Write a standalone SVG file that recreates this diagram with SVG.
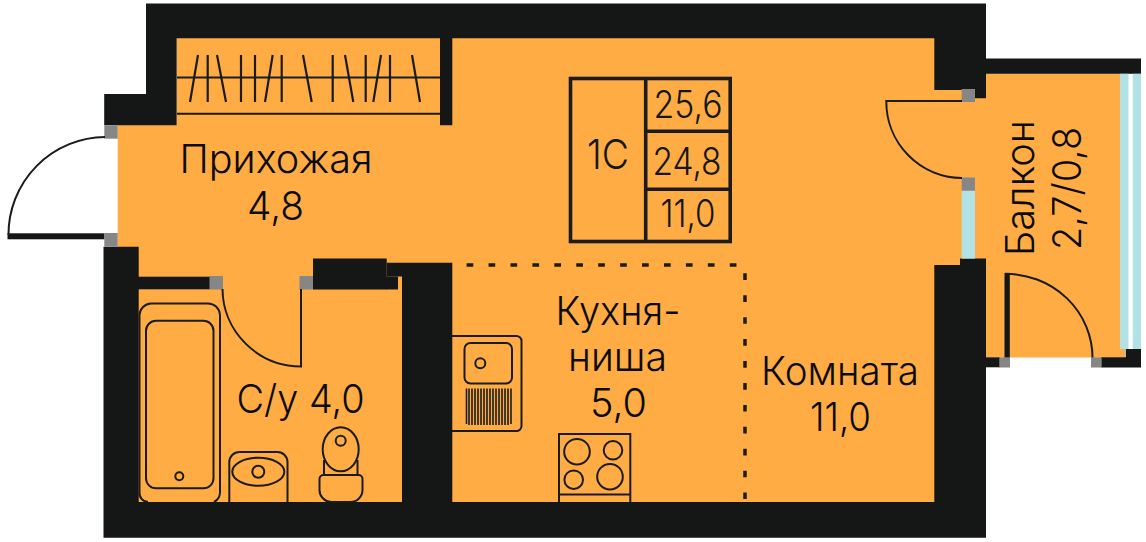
<svg xmlns="http://www.w3.org/2000/svg" width="1146" height="542" viewBox="0 0 1146 542">
<style>
.w{fill:#151716}
.g{fill:#868686}
.b{fill:#b0e2e6}
.l{fill:none;stroke:#1b1c1a;stroke-width:2}
.h{fill:none;stroke:#1b1c1a;stroke-width:2.2}
.d{fill:none;stroke:#1b1c1a;stroke-width:3.5}
text{font-family:Inter,"Noto Sans","Liberation Sans",sans-serif;font-size:39px;fill:#0b0b0b;font-weight:300}
.n{font-size:38px;fill:#151716}
</style>
<rect width="1146" height="542" fill="#fff"/>
<g id="floor"><polygon points="177,38 935,38 935,74 1125,74 1125,357.5 935,357.5 935,502 117.700,502 117.700,125 177,125" fill="#ffac45"/></g>
<g id="walls">
<polygon class="w" points="146,3.500 986,3.500 986,98.300 962,98.300 962,90 934.300,90 934.300,38.300 452.300,38.300 452.300,125.300 440,125.300 440,38.300 176.700,38.300 176.700,125.300 104.200,125.300 104.200,94 146,94"/>
<rect class="w" x="986" y="58.500" width="155" height="15.300"/>
<polygon class="w" points="934.300,265 960,265 960,258.600 986,258.600 986,537.700 103.500,537.700 103.500,246.700 138.700,246.700 138.700,502 402,502 402,276.500 386.700,276.500 386.700,262.700 452.300,262.700 452.300,502 934.300,502"/>
<rect class="w" x="138" y="276.700" width="72" height="12.600"/>
<rect class="w" x="313" y="258.500" width="73.700" height="31"/>
<rect class="w" x="386" y="276.500" width="12" height="13"/>
<rect class="w" x="986" y="357.300" width="14" height="10"/>
<polygon class="w" points="1101,357.300 1125.700,357.300 1125.700,349 1141,349 1141,367.500 1101,367.500"/>
<rect class="w" x="1004.500" y="273" width="5.300" height="85"/>
<rect class="w" x="7.500" y="233.300" width="97" height="6"/>
</g>
<g id="openings">
<rect class="g" x="104.300" y="125.300" width="13.400" height="13.400"/>
<rect class="g" x="104.300" y="233" width="13.400" height="13.700"/>
<rect class="g" x="209.500" y="276" width="13.500" height="13.500"/>
<rect class="g" x="299.500" y="276" width="13.500" height="13.500"/>
<rect class="g" x="961.700" y="89" width="13.300" height="13"/>
<rect class="g" x="961.700" y="177.500" width="13.300" height="13.300"/>
<rect class="g" x="999.300" y="357.300" width="10.700" height="10.200"/>
<rect class="g" x="1091" y="357.300" width="10.700" height="10.200"/>
<rect class="b" x="961.700" y="190.800" width="13.300" height="67.800"/>
<rect class="b" x="1120" y="73.800" width="8.500" height="275.200"/>
<rect class="b" x="1132.700" y="73.800" width="8.300" height="275.200"/>
</g>
<g id="connectors">
<path class="l" d="M105 137A97.500 97.500 0 0 0 8.500 235"/>
<path class="l" d="M222.500 289A79 78 0 0 0 301 366.500V289"/>
<path class="l" d="M962 101H886.300A76 76.500 0 0 0 962 178"/>
<path class="l" d="M1005 273.800A87 84 0 0 1 1092.500 357.500"/>
<path class="d" d="M466.600 265H738" stroke-dasharray="6.700 15.230"/>
<path class="d" d="M745 273.300V499" stroke-dasharray="6.700 15.230"/>
</g>
<g id="wardrobe">
<path class="l" d="M177 77.500H440M177 113.700H440"/>
<path class="h" d="M198 55L190 102M207.700 55V102M217 55L226 102M241 55V102M255 55V102M272.700 55L265 102M281.700 55V102M303 55L311.700 102M332.700 55V102M345 55L353.300 102M365.700 55V102M381 55L373.300 102M390 55V102M412 55L420 102"/>
</g>
<g id="bath" class="l">
<path d="M148 502A9 9 0 0 1 139.500 492V315A12 12 0 0 1 151 303.500H208A12 12 0 0 1 220 315V492A11 11 0 0 1 214 502"/>
<rect x="146" y="320.800" width="67.500" height="167.500" rx="10"/>
<circle cx="179.300" cy="476.300" r="4"/>
</g>
<g id="sink" class="l">
<path d="M229.300 502V462A10 10 0 0 1 239.300 452H277.500A10 10 0 0 1 287.500 462V502"/>
<ellipse cx="258.300" cy="471.700" rx="26" ry="14"/>
<circle cx="258.300" cy="471.700" r="6"/>
</g>
<g id="toilet" class="l">
<ellipse cx="340.700" cy="449.300" rx="18" ry="22"/>
<circle cx="340.700" cy="440.700" r="5"/>
<path d="M324 460V475M357.500 460V475"/>
<path d="M323.500 475H358.500A4 4 0 0 1 362.500 479V490A12 12 0 0 1 350.500 502H331A12 12 0 0 1 319.500 490V479A4 4 0 0 1 323.500 475Z"/>
</g>
<g id="kitchen-sink" class="l">
<path d="M452 336H516A5 5 0 0 1 521.500 341V426A5 5 0 0 1 516 431H452"/>
<rect x="464.500" y="343" width="47.500" height="40.500" rx="6"/>
<circle cx="480.300" cy="363.300" r="5"/>
<path d="M466.500 388.500V424M469 388.500V425M472 388.500V425M475 388.500V425M478 388.500V425M481 388.500V425M484 388.500V425M487 388.500V425M490 388.500V425M493 388.500V425M496 388.500V425M499 388.500V425M502 388.500V425M505 388.500V425M508 388.500V425M511 388.500V424" stroke-width="1.600"/>
</g>
<g id="stove" class="l">
<path d="M559 502V434H630.300V502M559 494.500H630.300"/>
<circle cx="577" cy="451.700" r="12.800"/>
<circle cx="613" cy="450.300" r="9.300"/>
<circle cx="573.700" cy="479.700" r="9.300"/>
<circle cx="610" cy="476.700" r="12.800"/>
</g>
<g id="label-box">
<rect x="570.500" y="78.500" width="159.700" height="163" fill="none" stroke="#1b1c1a" stroke-width="3.600"/>
<path d="M645.700 78.500V241.500M645.700 131.300H730M645.700 189.300H730" fill="none" stroke="#1b1c1a" stroke-width="3.600"/>
<text class="n" x="587" y="169.300" textLength="42" lengthAdjust="spacingAndGlyphs" style="font-size:41px">1С</text>
<text class="n" x="653.500" y="117.700" textLength="69" lengthAdjust="spacingAndGlyphs">25,6</text>
<text class="n" x="652.500" y="175" textLength="69" lengthAdjust="spacingAndGlyphs">24,8</text>
<text class="n" x="660.500" y="226.700" textLength="55" lengthAdjust="spacingAndGlyphs">11,0</text>
</g>
<g id="room-hall">
<text x="179.500" y="173" textLength="193" lengthAdjust="spacingAndGlyphs">Прихожая</text>
<text x="247" y="220" textLength="57" lengthAdjust="spacingAndGlyphs">4,8</text>
</g>
<g id="room-wc"><text x="236.500" y="413" textLength="128" lengthAdjust="spacingAndGlyphs">С/у 4,0</text></g>
<g id="room-kitchen">
<text x="555.500" y="325" textLength="125" lengthAdjust="spacingAndGlyphs">Кухня-</text>
<text x="568" y="370.700" textLength="99" lengthAdjust="spacingAndGlyphs">ниша</text>
<text x="590" y="416.700" textLength="57" lengthAdjust="spacingAndGlyphs">5,0</text>
</g>
<g id="room-main">
<text x="761" y="385" textLength="158" lengthAdjust="spacingAndGlyphs">Комната</text>
<text x="810" y="431" textLength="61" lengthAdjust="spacingAndGlyphs">11,0</text>
</g>
<g id="room-balcony">
<text transform="translate(1034.300 256) rotate(-90)" textLength="136" lengthAdjust="spacingAndGlyphs">Балкон</text>
<text transform="translate(1080.700 250) rotate(-90)" textLength="123" lengthAdjust="spacingAndGlyphs">2,7/0,8</text>
</g>
</svg>
